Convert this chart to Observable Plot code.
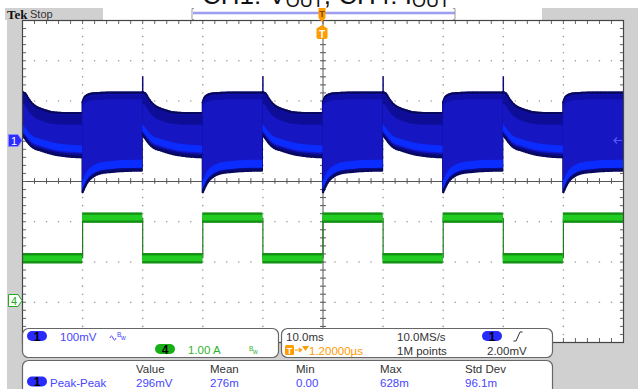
<!DOCTYPE html>
<html><head><meta charset="utf-8">
<script src="https://cdn.jsdelivr.net/npm/d3@7"></script>
<script src="https://cdn.jsdelivr.net/npm/@observablehq/plot@0.6"></script>
<style>body{margin:0;background:#fff;} svg{display:block}</style>
</head><body><div id="chart"></div>
<script>
// ---- data read from the scope screen ----
// time axis: 10 ms/div, trigger at centre (0 ms); 10 divisions => -50..50 ms
const fallEdges = [-50, -30, -10, 10, 30];   // ms: load current steps down (2A -> 1A)
const riseEdges = [-40, -20, 0, 20, 40];     // ms: load current steps up (1A -> 2A)
// CH1 (Vout, AC, 100 mV/div) ripple envelope after a falling load edge
const lowT   = [0, 0.5, 1, 1.5, 2, 3, 4, 5, 7, 10];
const lowTop = [122, 118, 106, 96, 89, 81, 76, 72, 70, 70];
const lowBot = [14, 5, -5, -13, -18, -23, -28, -32, -37, -40];
// envelope after a rising load edge
const highT   = [0, 0.3, 0.7, 1.2, 2, 3, 5, 7, 10];
const highTop = [96, 108, 114, 117, 119, 120, 121, 121, 121];
const highBot = [-127, -117, -105, -95, -86, -80, -76, -74, -73];
const spikeTop = 160;        // mV, overshoot spike at falling edges
// CH4 (Iout, 1.00 A/div)
const currLow = 1.08, currHigh = 2.09, currNoise = 0.13;   // A
// channel ground positions (divisions from centre) and scales
const ch1Ground = 1, ch1Scale = 100;   // mV/div
const ch4Ground = -3, ch4Scale = 1;    // A/div
// readouts
const ch1Label = "100mV", ch4Label = "1.00 A";
const timebase = "10.0ms", sampleRate = "10.0MS/s", recordLen = "1M points";
const trigPos = "1.20000\u00b5s", trigLevel = "2.00mV";
const measHeads = ["Value", "Mean", "Min", "Max", "Std Dev"];
const measVals = ["296mV", "276m", "0.00", "628m", "96.1m"];
const measName = "Peak-Peak";

const v2d = mv => ch1Ground + mv / ch1Scale;
const a2d = a => ch4Ground + a / ch4Scale;

// build CH1 segments
const blue = [];
fallEdges.forEach((e, k) => lowT.forEach((t, i) => blue.push({seg: "L" + k, kind: "low", t: e + t, top: lowTop[i], bot: lowBot[i]})));
riseEdges.forEach((e, k) => highT.forEach((t, i) => blue.push({seg: "H" + k, kind: "high", t: e + t, top: highTop[i], bot: highBot[i]})));
const lowRows = blue.filter(d => d.kind === "low"), highRows = blue.filter(d => d.kind === "high");

// CH4 segments
const green = [];
fallEdges.forEach(e => green.push({x1: e, x2: e + 10, lvl: currLow}));
riseEdges.forEach(e => green.push({x1: e, x2: e + 10, lvl: currHigh}));
const edges = [...fallEdges, ...riseEdges].filter(e => e > -50);

// graticule helpers (axis tick positions)
const xMajor = [-40, -30, -20, -10, 10, 20, 30, 40];
const yMajor = [-3, -2, -1, 1, 2, 3];
const xMinor = d3.range(-50, 50.001, 2);
const yMinor = d3.range(-4, 4.001, 0.2);
const gridDots = [];
xMajor.forEach(x => yMinor.forEach(y => gridDots.push({x, y})));
yMajor.forEach(y => xMinor.forEach(x => gridDots.push({x, y})));

const curve = "monotone-x";
const fuzz = {z: "seg", curve, clip: true, stroke: "#08085e", strokeWidth: 2.2, strokeDasharray: "1,1.6"};
const plot = Plot.plot({
  width: 638, height: 389,
  marginTop: 20, marginLeft: 22, marginRight: 15, marginBottom: 47,
  x: {domain: [-50, 50], axis: null},
  y: {domain: [-4, 4], axis: null},
  style: {background: "transparent", overflow: "visible"},
  marks: [
    Plot.frame({fill: "#fff", stroke: null}),
    Plot.dot(gridDots, {x: "x", y: "y", r: 0.8, fill: "#9a9a9a", stroke: null}),
    // centre lines + ticks
    Plot.ruleY([0], {stroke: "#555", strokeWidth: 1}),
    Plot.ruleX([0], {stroke: "#555", strokeWidth: 1}),
    Plot.ruleX(xMinor, {y1: -0.07, y2: 0.07, stroke: "#555"}),
    Plot.link(yMinor, {x1: -0.5, x2: 0.5, y1: d => d, y2: d => d, stroke: "#555"}),
    // border ticks
    Plot.ruleX(xMinor, {y1: 4, y2: 3.9, stroke: "#666"}),
    Plot.ruleX(xMinor, {y1: -4, y2: -3.9, stroke: "#666"}),
    Plot.link(yMinor, {x1: -50, x2: -49.4, y1: d => d, y2: d => d, stroke: "#666"}),
    Plot.link(yMinor, {x1: 50, x2: 49.4, y1: d => d, y2: d => d, stroke: "#666"}),
    // CH4 current
    Plot.ruleX(edges, {y1: a2d(currLow), y2: a2d(currHigh), stroke: "#1c7a1c", strokeWidth: 1.2}),
    Plot.rect(green, {x1: "x1", x2: "x2", y1: d => a2d(d.lvl - currNoise), y2: d => a2d(d.lvl + currNoise), fill: "#138f13", clip: true}),
    Plot.rect(green, {x1: "x1", x2: "x2", y1: d => a2d(d.lvl - currNoise * 0.55), y2: d => a2d(d.lvl + currNoise * 0.55), fill: "#22cc22", clip: true}),
    // CH1 voltage ripple (intensity graded)
    Plot.ruleX(fallEdges.filter(e => e > -50), {y1: v2d(lowTop[0]), y2: v2d(spikeTop), stroke: "#0a0a7a", strokeWidth: 1.5}),
    Plot.areaY(blue, {x: "t", y1: d => v2d(d.bot), y2: d => v2d(d.top), z: "seg", fill: "#0a0a82", stroke: "#06065e", strokeWidth: 1.2, curve, clip: true}),
    Plot.line(blue, {x: "t", y: d => v2d(d.top), ...fuzz}),
    Plot.line(blue, {x: "t", y: d => v2d(d.bot), ...fuzz}),
    Plot.areaY(blue, {x: "t", y1: d => v2d(d.bot + 7), y2: d => v2d(d.top - 5), z: "seg", fill: "#1616c2", curve, clip: true}),
    Plot.areaY(lowRows, {x: "t", y1: d => v2d(d.top - 30), y2: d => v2d(d.top - 6), z: "seg", fill: "#0d0d98", curve, clip: true}),
    Plot.areaY(highRows, {x: "t", y1: d => v2d(d.top - 18), y2: d => v2d(d.top - 6), z: "seg", fill: "#0f0fa8", curve, clip: true}),
    Plot.areaY(lowRows, {x: "t", y1: d => v2d(d.bot + 11), y2: d => v2d(d.bot + 28), z: "seg", fill: "#0a2cff", curve, clip: true}),
    Plot.areaY(highRows, {x: "t", y1: d => v2d(d.bot + 6), y2: d => v2d(d.bot + 26), z: "seg", fill: "#0a2cff", curve, clip: true}),
    Plot.frame({stroke: "#444", strokeWidth: 1.2})
  ]
});
document.getElementById("chart").appendChild(plot);

// ---- scope screen furniture ----
const svg = d3.select(plot);
const gray = "#d0d0d0";
const bg = svg.insert("g", ":first-child");
[[7, 8, 15, 381], [5, 8, 98, 12], [542, 8, 96, 12], [623, 8, 15, 381], [7, 342, 631, 47]]
  .forEach(([x, y, w, h]) => bg.append("rect").attr("x", x).attr("y", y).attr("width", w).attr("height", h).attr("fill", gray));

const fg = svg.append("g").attr("font-family", "Liberation Sans, Arial, sans-serif").attr("text-anchor", "start");
// cut-off title
const title = fg.append("text").attr("x", 326).attr("y", 4).attr("text-anchor", "middle")
  .attr("font-size", 26).attr("fill", "#111");
title.append("tspan").text("CH1: V");
title.append("tspan").attr("font-size", 18).attr("dy", 3).text("OUT");
title.append("tspan").attr("dy", -3).text(", CH4: I");
title.append("tspan").attr("font-size", 18).attr("dy", 3).text("OUT");

fg.append("text").attr("x", 7).attr("y", 18.5).attr("font-family", "Liberation Serif, serif").attr("font-weight", "bold").attr("font-size", 13).attr("fill", "#111").text("Tek");
fg.append("text").attr("x", 30).attr("y", 18).attr("font-size", 11).attr("fill", "#333").text("Stop");

// record view bar
fg.append("line").attr("x1", 193).attr("x2", 455).attr("y1", 13).attr("y2", 13).attr("stroke", "#9c9cf0").attr("stroke-width", 2.5);
[192, 455].forEach(x => fg.append("path").attr("d", `M${x + (x < 300 ? 2 : -2)},8.5 H${x} V19.5 H${x + (x < 300 ? 2 : -2)}`).attr("fill", "none").attr("stroke", "#999"));
// trigger markers
fg.append("path").attr("d", "M318.5,8 H325.5 V18 L322,22 L318.5,18 Z").attr("fill", "#ff9a00");
fg.append("text").attr("x", 322).attr("y", 17).attr("text-anchor", "middle").attr("font-size", 9).attr("font-weight", "bold").attr("fill", "#7a4a00").text("T");
fg.append("path").attr("d", "M322,25 L327.5,28.5 V37 Q327.5,39 325.5,39 H318.5 Q316.5,39 316.5,37 V28.5 Z").attr("fill", "#ff9a00");
fg.append("text").attr("x", 322).attr("y", 37.5).attr("text-anchor", "middle").attr("font-size", 10).attr("font-weight", "bold").attr("fill", "#fff").text("T");

// channel markers
fg.append("path").attr("d", "M8.5,134.5 H18 L22,140.5 L18,146.5 H8.5 Z").attr("fill", "#2b2bff").attr("stroke", "#8888ff");
fg.append("text").attr("x", 14).attr("y", 145).attr("text-anchor", "middle").attr("font-size", 11).attr("fill", "#fff").text("1");
fg.append("path").attr("d", "M8.5,294.5 H18 L22,300.5 L18,306.5 H8.5 Z").attr("fill", "#fff").attr("stroke", "#22aa22");
fg.append("text").attr("x", 14).attr("y", 305).attr("text-anchor", "middle").attr("font-size", 11).attr("fill", "#22aa22").text("4");
fg.append("path").attr("d", "M622,140.5 H614 M617,137.5 L614,140.5 L617,143.5").attr("fill", "none").attr("stroke", "#5555ff").attr("stroke-width", 1.2);

// readout panels
const panel = (x, y, w, h) => fg.append("rect").attr("x", x).attr("y", y).attr("width", w).attr("height", h).attr("rx", 6).attr("fill", "#fff").attr("stroke", "#666").attr("stroke-width", 1.2);
panel(22.5, 328.5, 256, 29);
panel(281.5, 328.5, 271, 29);
panel(22.5, 360.5, 530, 40);
const pill = (cx, cy, fill, label) => {
  fg.append("rect").attr("x", cx - 10).attr("y", cy - 5).attr("width", 20).attr("height", 10).attr("rx", 5).attr("fill", fill);
  fg.append("text").attr("x", cx).attr("y", cy + 4.5).attr("text-anchor", "middle").attr("font-size", 12).attr("font-weight", "bold").attr("fill", "#000").text(label);
};
const txt = (x, y, s, fill, size = 11.5) => fg.append("text").attr("x", x).attr("y", y).attr("font-size", size).attr("fill", fill).text(s);
const blueTxt = "#4646ff", greenTxt = "#2fb52f", orange = "#ff9a00", dark = "#333";
pill(37, 336, "#2a2aff", "1");
txt(60, 341, ch1Label, blueTxt);
fg.append("path").attr("d", "M110,338 q1.5,-4 3,0 q1.5,4 3,0").attr("fill", "none").attr("stroke", blueTxt).attr("stroke-width", 1);
txt(117, 337, "B", blueTxt, 6.5); txt(121, 340, "w", blueTxt, 6.5);
pill(165, 349, "#16b016", "4");
txt(188, 354, ch4Label, greenTxt);
txt(249, 351, "B", greenTxt, 6.5); txt(253, 354, "w", greenTxt, 6.5);

txt(286, 341, timebase, dark);
fg.append("rect").attr("x", 285).attr("y", 345).attr("width", 9).attr("height", 10).attr("rx", 1.5).attr("fill", orange);
fg.append("text").attr("x", 289.5).attr("y", 353.5).attr("text-anchor", "middle").attr("font-size", 9).attr("font-weight", "bold").attr("fill", "#fff").text("T");
fg.append("path").attr("d", "M295,350 H301 M299,348 L301.5,350 L299,352").attr("fill", "none").attr("stroke", orange).attr("stroke-width", 1.2);
fg.append("path").attr("d", "M302,346 H309 L305.5,351 Z").attr("fill", orange);
txt(309, 355, trigPos, orange);
txt(397, 341, sampleRate, dark);
txt(397, 355, recordLen, dark);
pill(492, 336, "#2a2aff", "1");
fg.append("path").attr("d", "M513.5,341 H516 L520,332 H522.5").attr("fill", "none").attr("stroke", dark).attr("stroke-width", 1);
txt(487, 355, trigLevel, dark);

const colX = [136, 210, 296, 380, 465];
measHeads.forEach((h, i) => txt(colX[i], 373, h, dark));
pill(37, 381.5, "#2a2aff", "1");
txt(50, 386.5, measName, blueTxt);
measVals.forEach((v, i) => txt(colX[i], 386.5, v, blueTxt));
</script></body></html>
